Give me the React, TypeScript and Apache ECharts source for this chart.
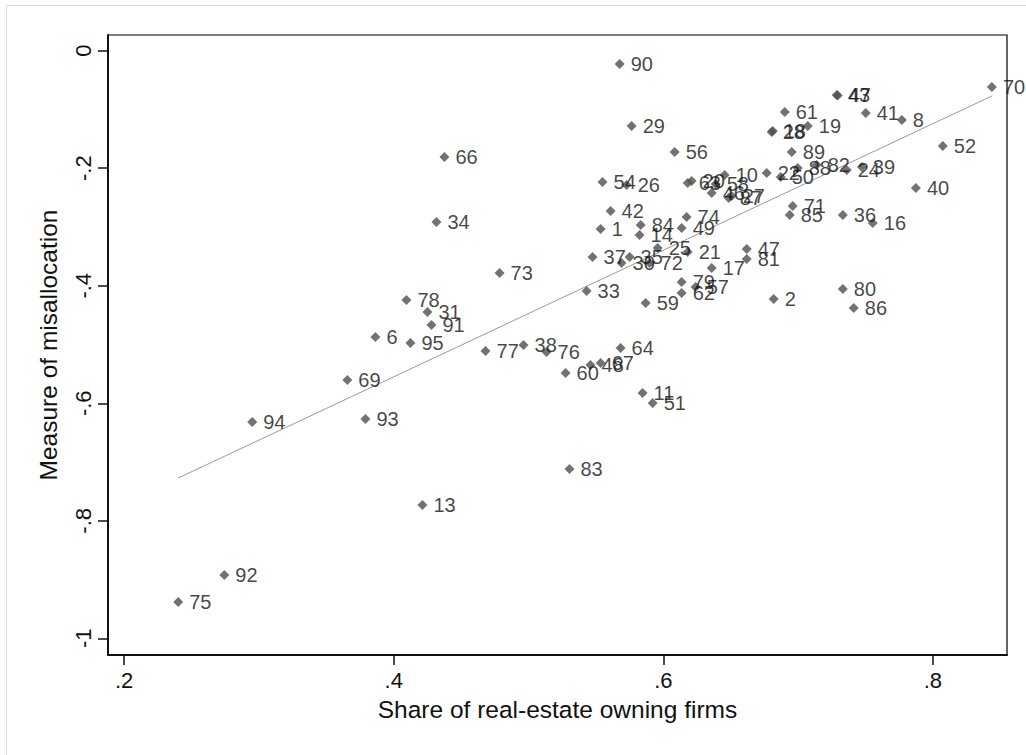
import React, { useEffect, useRef } from "react";
import * as echarts from "echarts";

// Industry codes (point labels)
const codes = [
  "90", "70", "43", "47", "61", "41", "8", "19", "28", "18",
  "29", "52", "66", "56", "89", "88", "82", "24", "39", "40",
  "22", "50", "54", "26", "63", "20", "46", "58", "10", "87",
  "27", "42", "74", "71", "85", "36", "16", "34", "1", "84",
  "14", "49", "25", "21", "47", "81", "37", "35", "30", "72",
  "17", "73", "79", "57", "62", "33", "59", "2", "80", "86",
  "78", "31", "91", "6", "95", "77", "38", "76", "64", "60",
  "48", "67", "11", "51", "69", "94", "93", "83", "13", "92",
  "75",
];

// Share of real-estate owning firms (x)
const shareRealEstate = [
  0.5676, 0.8438, 0.7287, 0.7294, 0.6901, 0.7502, 0.777, 0.7072, 0.6804, 0.6812,
  0.5765, 0.8074, 0.4376, 0.6084, 0.6953, 0.6997, 0.7138, 0.7361, 0.7473, 0.7874,
  0.6767, 0.6871, 0.5549, 0.5728, 0.6181, 0.621, 0.6359, 0.6389, 0.6455, 0.6485,
  0.6507, 0.5609, 0.6173, 0.696, 0.6938, 0.7332, 0.7554, 0.4317, 0.5535, 0.5832,
  0.5824, 0.6136, 0.5958, 0.6181, 0.6619, 0.6619, 0.5475, 0.575, 0.569, 0.5898,
  0.6359, 0.4785, 0.6136, 0.624, 0.6136, 0.5431, 0.5869, 0.6819, 0.7332, 0.7413,
  0.4094, 0.425, 0.428, 0.3864, 0.4124, 0.4681, 0.4963, 0.5134, 0.5683, 0.5275,
  0.546, 0.5535, 0.5846, 0.5921, 0.3656, 0.295, 0.379, 0.5304, 0.4213, 0.2743,
  0.2401,
];

// Measure of misallocation (y)
const misallocation = [
  -0.0226, -0.0618, -0.0754, -0.0762, -0.1043, -0.106, -0.1179, -0.1281, -0.1384, -0.1367,
  -0.1281, -0.1622, -0.1809, -0.1724, -0.1724, -0.1996, -0.1945, -0.203, -0.1979, -0.2337,
  -0.2081, -0.2149, -0.2235, -0.2286, -0.2252, -0.2218, -0.2422, -0.2269, -0.2115, -0.2507,
  -0.2473, -0.2728, -0.283, -0.2643, -0.2796, -0.2796, -0.2932, -0.2915, -0.3034, -0.2966,
  -0.3137, -0.3017, -0.3358, -0.3426, -0.3375, -0.3545, -0.3511, -0.3511, -0.3613, -0.3613,
  -0.3698, -0.3783, -0.3936, -0.4021, -0.4124, -0.409, -0.4294, -0.4226, -0.4056, -0.4379,
  -0.4243, -0.4447, -0.4668, -0.4872, -0.4974, -0.5111, -0.5009, -0.5128, -0.506, -0.5485,
  -0.5349, -0.5315, -0.5825, -0.5996, -0.5604, -0.6319, -0.6268, -0.7119, -0.7732, -0.8923,
  -0.9382,
];

// Fitted line end points
const fitX = [0.2401, 0.8438];
const fitY = [-0.7272, -0.0771];

// Tick values
const xTicks = [0.2, 0.4, 0.6, 0.8];
const yTicks = [0, -0.2, -0.4, -0.6, -0.8, -1];

const FONT = "'Liberation Sans', Arial, sans-serif";

function fmt(v: number): string {
  if (v === 0) return "0";
  if (Number.isInteger(v)) return String(v);
  return v.toFixed(1).replace("0.", ".");
}

export default function App() {
  const ref = useRef<HTMLDivElement>(null);

  useEffect(() => {
    if (!ref.current) return;
    const chart = echarts.init(ref.current, undefined, { renderer: "svg" });

    const points = codes.map((c, i) => ({
      name: c,
      value: [shareRealEstate[i], misallocation[i]],
    }));

    chart.setOption({
      animation: false,
      backgroundColor: "#ffffff",
      grid: {
        left: 108,
        top: 35,
        right: 19,
        bottom: 100,
        show: true,
        borderColor: "#000",
        borderWidth: 1.2,
        backgroundColor: "#fff",
      },
      graphic: [
        {
          type: "line",
          shape: { x1: 6.5, y1: 5.5, x2: 1040, y2: 5.5 },
          style: { stroke: "#d9d9d9", lineWidth: 1 },
        },
        {
          type: "line",
          shape: { x1: 6.5, y1: 5.5, x2: 6.5, y2: 770 },
          style: { stroke: "#d9d9d9", lineWidth: 1 },
        },
      ],
      xAxis: {
        type: "value",
        min: 0.188,
        max: 0.855,
        name: "Share of real-estate owning firms",
        nameLocation: "middle",
        nameGap: 42,
        nameTextStyle: { fontFamily: FONT, fontSize: 24.5, color: "#111" },
        splitLine: { show: false },
        axisLine: { show: true, onZero: false, lineStyle: { color: "#111", width: 2 } },
        axisTick: {
          show: true,
          length: 10,
          lineStyle: { color: "#111", width: 1.5 },
          customValues: xTicks,
        },
        axisLabel: {
          customValues: xTicks,
          formatter: (v: number) => fmt(v),
          fontFamily: FONT,
          fontSize: 22,
          color: "#111",
          margin: 14,
        },
      },
      yAxis: {
        type: "value",
        min: -1.0284,
        max: 0.0267,
        name: "Measure of misallocation",
        nameLocation: "middle",
        nameRotate: 90,
        nameGap: 47,
        nameTextStyle: { fontFamily: FONT, fontSize: 24.5, color: "#111" },
        splitLine: { show: false },
        axisLine: { show: true, onZero: false, lineStyle: { color: "#111", width: 2 } },
        axisTick: {
          show: true,
          length: 10,
          lineStyle: { color: "#111", width: 1.5 },
          customValues: yTicks,
        },
        axisLabel: {
          customValues: yTicks,
          rotate: 90,
          formatter: (v: number) => fmt(v),
          fontFamily: FONT,
          fontSize: 22,
          color: "#111",
          margin: 14,
        },
      },
      series: [
        {
          type: "line",
          data: [
            [fitX[0], fitY[0]],
            [fitX[1], fitY[1]],
          ],
          symbol: "none",
          lineStyle: { color: "#9a9a9a", width: 1 },
          silent: true,
          z: 1,
        },
        {
          type: "scatter",
          data: points,
          symbol: "diamond",
          symbolSize: 10,
          itemStyle: { color: "#4f4f4f" },
          label: {
            show: true,
            position: "right",
            distance: 6,
            formatter: (p: any) => p.name,
            fontFamily: FONT,
            fontSize: 20,
            color: "#141414",
          },
          z: 2,
        },
      ],
    });

    return () => chart.dispose();
  }, []);

  return (
    <div
      ref={ref}
      style={{ position: "fixed", left: 0, top: 0, width: 1026, height: 755, background: "#fff" }}
    />
  );
}
